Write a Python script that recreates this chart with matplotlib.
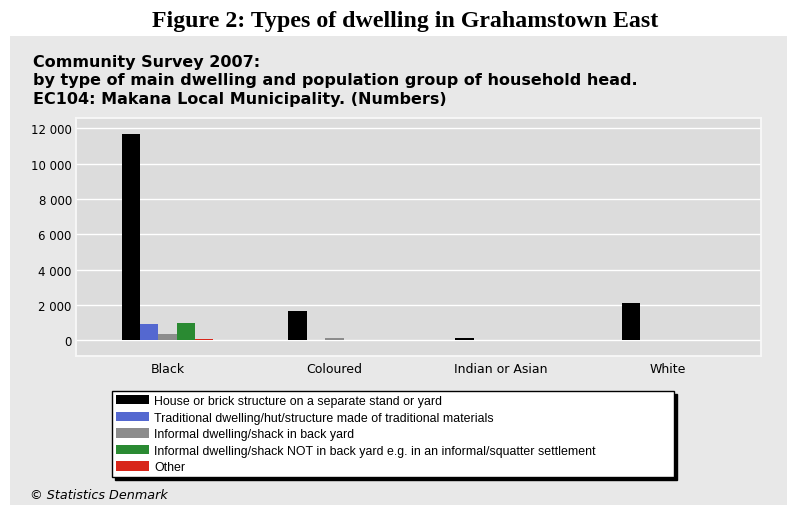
import numpy as np
import matplotlib
matplotlib.use("Agg")
import matplotlib.pyplot as plt
from matplotlib.patches import Rectangle
from matplotlib.ticker import FuncFormatter

# Households by main dwelling type and population group of household head
groups = ["Black", "Coloured", "Indian or Asian", "White"]
dwelling_types = [
    "House or brick structure on a separate stand or yard",
    "Traditional dwelling/hut/structure made of traditional materials",
    "Informal dwelling/shack in back yard",
    "Informal dwelling/shack NOT in back yard e.g. in an informal/squatter settlement",
    "Other",
]
house = [11680, 1660, 150, 2095]
traditional = [907, 0, 0, 0]
backyard = [380, 134, 0, 0]
informal = [980, 0, 0, 0]
other = [90, 0, 0, 0]
yticks = [0, 2000, 4000, 6000, 8000, 10000, 12000]

series = [house, traditional, backyard, informal, other]
colors = ["#000000", "#5468d0", "#8c8c8c", "#2a8a32", "#d8261a"]

W, H = 787, 506
fig = plt.figure(figsize=(W / 100, H / 100), dpi=100)
fig.patch.set_facecolor("white")

# grey panel behind the chart
fig.patches.append(Rectangle((10 / W, 0), 1 - 10 / W, 1 - 37 / H,
                             transform=fig.transFigure, facecolor="#e8e8e8",
                             edgecolor="none", zorder=-5))

fig.text(405 / W, 1 - 22 / H, "Figure 2: Types of dwelling in Grahamstown East",
         ha="center", va="center", fontsize=17.2, fontweight="bold",
         family="Liberation Serif")

subtitle = ["Community Survey 2007:",
            "by type of main dwelling and population group of household head.",
            "EC104: Makana Local Municipality. (Numbers)"]
for line, yb in zip(subtitle, [67.5, 85.5, 104]):
    fig.text(33 / W, 1 - yb / H, line, ha="left", va="baseline",
             fontsize=11.5, fontweight="bold", family="DejaVu Sans")

ax = fig.add_axes([76 / W, 1 - 357 / H, (761 - 76) / W, (357 - 119) / H])
ax.set_facecolor("#dcdcdc")

x = np.arange(len(groups))
width = 0.11
for j, (vals, col, lab) in enumerate(zip(series, colors, dwelling_types)):
    ax.bar(x + (j - 2) * width, vals, width, color=col, label=lab,
           edgecolor="none", zorder=3)

ax.set_xlim(-0.549, 3.558)
ax.set_ylim(-890, 12585)
ax.set_yticks(yticks)
ax.yaxis.set_major_formatter(FuncFormatter(lambda v, p: f"{int(v):,}".replace(",", " ")))
ax.set_xticks(x)
ax.set_xticklabels(groups, family="DejaVu Sans", fontsize=9)
ax.tick_params(axis="both", length=0)
ax.tick_params(axis="x", pad=4)
ax.tick_params(axis="y", pad=3, labelsize=8.5)
ax.grid(axis="y", color="white", lw=1.0, zorder=1)
ax.set_axisbelow(True)
for s in ax.spines.values():
    s.set_color("#f8f8f8")
    s.set_linewidth(1.3)

leg = fig.legend(loc="upper left",
                 bbox_to_anchor=(112 / W, 1 - 392 / H, (674 - 112) / W, 0.0),
                 mode="expand", ncol=1, frameon=True, fancybox=False,
                 shadow={"color": "black", "alpha": 1},
                 prop={"family": "Liberation Sans", "size": 8.9},
                 handlelength=2.7, handleheight=0.8, handletextpad=0.4,
                 labelspacing=0.37, borderpad=0.32, borderaxespad=0)
leg.get_frame().set_edgecolor("black")
leg.get_frame().set_linewidth(1.0)
leg.get_frame().set_facecolor("white")

fig.text(30 / W, 1 - 496 / H, "© Statistics Denmark", ha="left", va="center",
         fontsize=9.2, style="italic", family="DejaVu Sans")

fig.savefig("out.png", dpi=100)
